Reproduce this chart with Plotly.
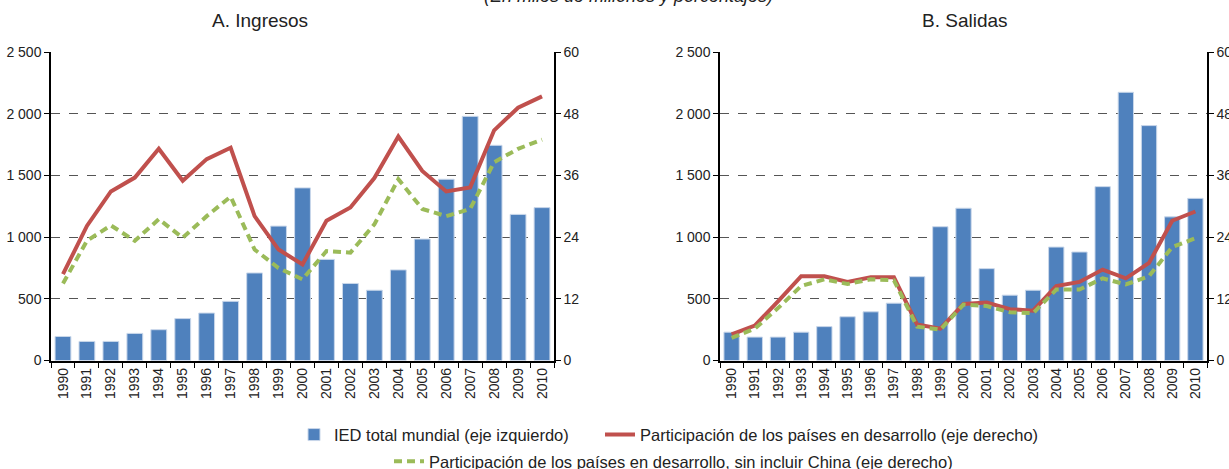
import plotly.graph_objects as go

# datos
years = [str(y) for y in range(1990, 2011)]

ingresos_ied = [195, 155, 155, 220, 250, 340, 385, 480, 710, 1090, 1400,
                820, 625, 570, 735, 985, 1470, 1980, 1745, 1185, 1240]
ingresos_desarrollo = [16.8, 26.2, 32.9, 35.6, 41.2, 35.0, 39.2, 41.4, 28.1, 21.6, 18.7,
                       27.2, 29.8, 35.5, 43.6, 36.9, 32.9, 33.7, 44.8, 49.2, 51.4]
ingresos_sin_china = [15.0, 23.3, 26.3, 23.3, 27.5, 23.9, 28.1, 31.9, 21.6, 18.0, 15.8,
                      21.3, 21.0, 26.5, 35.3, 29.5, 28.1, 29.5, 38.6, 41.2, 43.0]

salidas_ied = [230, 190, 190, 230, 275, 355, 395, 465, 680, 1085, 1235,
               745, 530, 570, 920, 880, 1410, 2175, 1905, 1165, 1315]
salidas_desarrollo = [5.1, 6.8, 11.5, 16.4, 16.4, 15.3, 16.2, 16.2, 7.0, 6.2, 11.0,
                      11.3, 10.0, 9.7, 14.5, 15.3, 17.7, 16.0, 19.0, 27.2, 29.0]
salidas_sin_china = [4.4, 6.2, 10.2, 14.5, 15.8, 14.9, 15.8, 15.6, 6.6, 6.0, 10.9,
                     10.6, 9.4, 9.2, 13.8, 13.8, 16.0, 14.8, 16.4, 22.1, 23.8]

left_ticks = [0, 500, 1000, 1500, 2000, 2500]
left_labels = ["0", "500", "1 000", "1 500", "2 000", "2 500"]
right_ticks = [0, 12, 24, 36, 48, 60]

# target picture is 1229x469; the figure comes out ~2% shorter than asked,
# so ask a little taller and give positions as fractions of 469
W, H = 1229, 479
REF_H = 469
FONT = "Liberation Sans"
BLUE = "#4F81BD"
RED = "#C0504D"
GREEN = "#9BBB59"

def px_x(p):
    # picture pixel -> paper x
    return p / W

def px_y(p):
    # picture pixel -> paper y
    return (REF_H - p) / REF_H

fig = go.Figure()

panels = [
    (ingresos_ied, ingresos_desarrollo, ingresos_sin_china, "x", "y", "y2", True),
    (salidas_ied, salidas_desarrollo, salidas_sin_china, "x2", "y3", "y4", False),
]
for ied, des, sin, xa, ya, ya2, show in panels:
    fig.add_trace(go.Bar(x=years, y=ied, xaxis=xa, yaxis=ya, width=0.66,
                         marker=dict(color=BLUE, line=dict(color="#c9d7ea", width=1)),
                         name="IED total mundial (eje izquierdo)",
                         showlegend=show, legend="legend"))
    fig.add_trace(go.Scatter(x=years, y=des, xaxis=xa, yaxis=ya2, mode="lines",
                             line=dict(color=RED, width=4),
                             name="Participación de los países en desarrollo (eje derecho)",
                             showlegend=show, legend="legend2"))
    fig.add_trace(go.Scatter(x=years, y=sin, xaxis=xa, yaxis=ya2, mode="lines",
                             line=dict(color=GREEN, width=4, dash="8px,5px"),
                             name="Participación de los países en desarrollo, sin incluir China (eje derecho)",
                             showlegend=show, legend="legend3"))

ydom = [px_y(359), px_y(52)]
tickfont = dict(family=FONT, size=14, color="#222")

xcommon = dict(type="category", tickangle=-90, ticks="outside", tickson="boundaries",
               ticklen=6, tickcolor="black", showline=True, linecolor="black",
               linewidth=1.5, showgrid=False, tickfont=tickfont, automargin=False)
yleft = dict(range=[0, 2500], tickvals=left_ticks, ticktext=left_labels,
             ticks="outside", ticklen=5, tickcolor="black", showline=True,
             linecolor="black", linewidth=1.5, showgrid=True, gridcolor="#555",
             griddash="dash", gridwidth=1, zeroline=False, tickfont=tickfont,
             domain=ydom, automargin=False)
yright = dict(range=[0, 60], tickvals=right_ticks, side="right", ticks="outside",
              ticklen=5, tickcolor="black", showline=True, linecolor="black",
              linewidth=1.5, showgrid=False, zeroline=False, tickfont=tickfont,
              automargin=False)

legfont = dict(family=FONT, size=16.5, color="#222")

fig.update_layout(
    width=W, height=H,
    margin=dict(l=0, r=0, t=0, b=0),
    paper_bgcolor="white", plot_bgcolor="white",
    font=dict(family=FONT, size=14, color="#222"),
    hovermode=False,
    xaxis=dict(domain=[px_x(51), px_x(554)], anchor="y", **xcommon),
    yaxis=dict(anchor="x", **yleft),
    yaxis2=dict(anchor="x", overlaying="y", **yright),
    xaxis2=dict(domain=[px_x(720), px_x(1207)], anchor="y3", **xcommon),
    yaxis3=dict(anchor="x2", **yleft),
    yaxis4=dict(anchor="x2", overlaying="y3", **yright),
    legend=dict(x=px_x(294), y=px_y(433), xanchor="left", yanchor="middle",
                orientation="h", font=legfont, bgcolor="rgba(0,0,0,0)"),
    legend2=dict(x=px_x(600), y=px_y(433), xanchor="left", yanchor="middle",
                 orientation="h", font=legfont, bgcolor="rgba(0,0,0,0)"),
    legend3=dict(x=px_x(389), y=px_y(460), xanchor="left", yanchor="middle",
                 orientation="h", font=legfont, bgcolor="rgba(0,0,0,0)"),
    annotations=[
        dict(text="<i>(En miles de millones y porcentajes)</i>", x=px_x(628), y=px_y(8),
             xref="paper", yref="paper", xanchor="center", yanchor="bottom",
             showarrow=False, font=dict(family=FONT, size=18, color="#222")),
        dict(text="A. Ingresos", x=px_x(260), y=px_y(20), xref="paper", yref="paper",
             xanchor="center", yanchor="middle", showarrow=False,
             font=dict(family=FONT, size=19, color="#222")),
        dict(text="B. Salidas", x=px_x(965), y=px_y(20), xref="paper", yref="paper",
             xanchor="center", yanchor="middle", showarrow=False,
             font=dict(family=FONT, size=19, color="#222")),
    ],
)

# drop the default body margin and clip whatever spills past the figure box
post = ("document.body.style.margin = '0';"
        "document.getElementById('{plot_id}').style.overflow = 'hidden';")
fig.write_html("out.html", post_script=post, config={"displayModeBar": False})
